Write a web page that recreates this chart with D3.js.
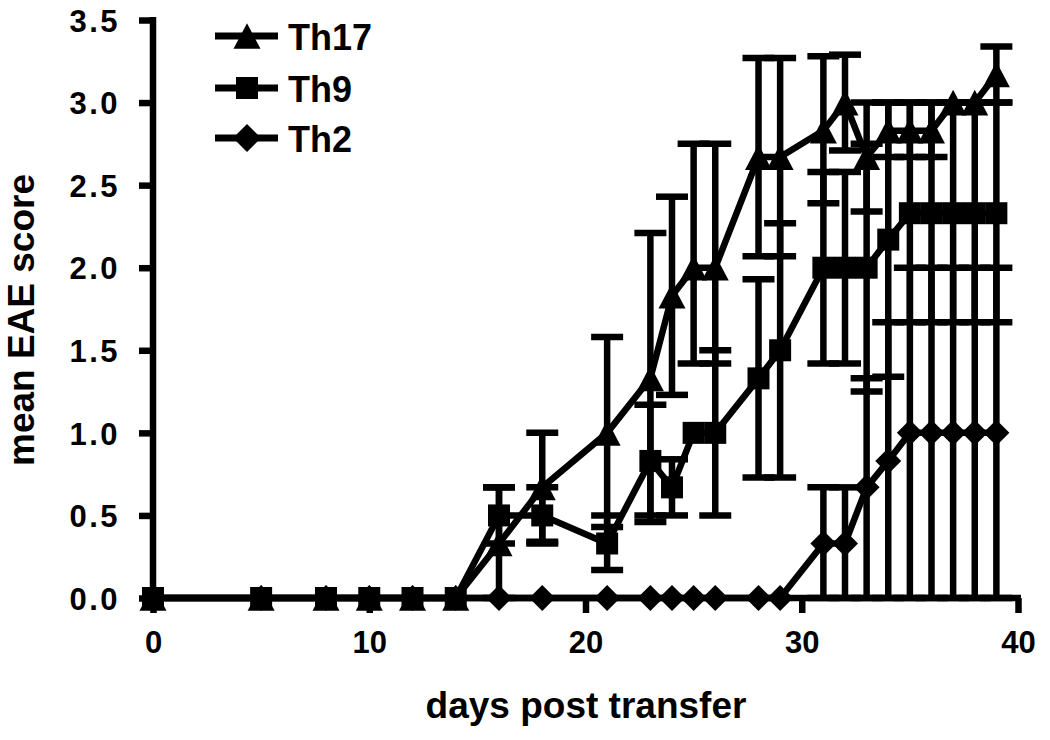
<!DOCTYPE html>
<html>
<head>
<meta charset="utf-8">
<script src="https://cdn.jsdelivr.net/npm/d3@7"></script>
<style>
  html, body { margin: 0; padding: 0; background: #fff; }
  svg { display: block; }
  text { font-family: "Liberation Sans", Arial, Helvetica, sans-serif; font-weight: bold; fill: #000; }
</style>
</head>
<body>
<svg id="chart" width="1050" height="740"></svg>
<script>
// ---------------- data ----------------
const days = [0, 5, 8, 10, 12, 14, 16, 18, 21, 23, 24, 25, 26, 28, 29, 31, 32, 33, 34, 35, 36, 37, 38, 39];

const th17Mean = [0, 0, 0, 0, 0, 0, 0.33, 0.67, 1.0, 1.33, 1.83, 2.0, 2.0, 2.67, 2.67, 2.83, 3.0, 2.67, 2.83, 2.83, 2.83, 3.0, 3.0, 3.17];
const th17Hi   = [0, 0, 0, 0, 0, 0, 0.67, 1.0, 1.58, 2.21, 2.43, 2.75, 2.75, 3.27, 3.27, 3.28, 3.29, 3.0, 3.0, 3.0, 3.0, 3.0, 3.0, 3.34];
const th17Lo   = [0, 0, 0, 0, 0, 0, 0, 0.34, 0.43, 0.46, 1.23, 1.42, 1.42, 2.07, 2.07, 2.39, 2.71, 2.34, 2.67, 2.67, 2.67, 3.0, 3.0, 3.0];

const th9Mean = [0, 0, 0, 0, 0, 0, 0.5, 0.5, 0.33, 0.83, 0.67, 1.0, 1.0, 1.33, 1.5, 2.0, 2.0, 2.0, 2.17, 2.33, 2.33, 2.33, 2.33, 2.33];
const th9Hi   = [0, 0, 0, 0, 0, 0, 0.67, 0.67, 0.5, 1.17, 0.84, 1.0, 1.5, 1.93, 2.27, 2.58, 2.58, 2.75, 3.0, 3.0, 3.0, 3.0, 3.0, 3.0];
const th9Lo   = [0, 0, 0, 0, 0, 0, 0.33, 0.33, 0.17, 0.5, 0.5, 1.0, 0.5, 0.73, 0.73, 1.42, 1.42, 1.25, 1.34, 1.67, 1.67, 1.67, 1.67, 1.67];

const th2Mean = [0, 0, 0, 0, 0, 0, 0, 0, 0, 0, 0, 0, 0, 0, 0, 0.33, 0.33, 0.67, 0.83, 1.0, 1.0, 1.0, 1.0, 1.0];
const th2Hi   = [0, 0, 0, 0, 0, 0, 0, 0, 0, 0, 0, 0, 0, 0, 0, 0.67, 0.67, 1.33, 1.67, 2.0, 2.0, 2.0, 2.0, 2.0];
const th2Lo   = [0, 0, 0, 0, 0, 0, 0, 0, 0, 0, 0, 0, 0, 0, 0, 0, 0, 0, 0, 0, 0, 0, 0, 0];

const seriesNames = ["Th17", "Th9", "Th2"];
const xTicks = [0, 10, 20, 30, 40];
const yTicks = [0, 0.5, 1.0, 1.5, 2.0, 2.5, 3.0, 3.5];
const xTitle = "days post transfer";
const yTitle = "mean EAE score";

// ---------------- layout ----------------
const svg = d3.select("#chart");
const x = d3.scaleLinear().domain([0, 40]).range([153, 1018]);
const y = d3.scaleLinear().domain([0, 3.5]).range([598, 20]);

const LW = 6.5;     // line width
const CAP = 32;     // error cap width

// marker shapes
const triShape = { draw(ctx, size) { const w = Math.sqrt(size) , h = w * 0.95; ctx.moveTo(0, -h / 2); ctx.lineTo(w / 2, h / 2); ctx.lineTo(-w / 2, h / 2); ctx.closePath(); } };
const sqShape = { draw(ctx, size) { const s = Math.sqrt(size) / 2; ctx.rect(-s, -s, 2 * s, 2 * s); } };
const diaShape = { draw(ctx, size) { const r = Math.sqrt(size) / 2; ctx.moveTo(0, -r); ctx.lineTo(r, 0); ctx.lineTo(0, r); ctx.lineTo(-r, 0); ctx.closePath(); } };

const series = [
  { name: "Th2",  mean: th2Mean,  hi: th2Hi,  lo: th2Lo,  shape: diaShape, size: 26 * 26 },
  { name: "Th17", mean: th17Mean, hi: th17Hi, lo: th17Lo, shape: triShape, size: 27 * 27 },
  { name: "Th9",  mean: th9Mean,  hi: th9Hi,  lo: th9Lo,  shape: sqShape,  size: 22 * 22 }
];

// ---------------- axes ----------------
const xAxis = svg.append("g").attr("transform", `translate(0,${y(0)})`)
  .call(d3.axisBottom(x).tickValues(xTicks).tickSize(15).tickSizeOuter(0).tickFormat(d3.format("d")));
xAxis.select(".domain").attr("stroke", "#000").attr("stroke-width", LW)
  .attr("d", `M${x(0) - 3},0H${x(40) + 3}`);
xAxis.selectAll(".tick line").attr("stroke", "#000").attr("stroke-width", LW);
xAxis.selectAll(".tick text").attr("y", 55).attr("dy", null)
  .style("font-size", "31px").style("font-family", '"Liberation Sans", Arial, sans-serif').style("font-weight", "bold");

const yAxis = svg.append("g").attr("transform", `translate(${x(0)},0)`)
  .call(d3.axisLeft(y).tickValues(yTicks).tickSize(14).tickSizeOuter(0).tickFormat(d3.format(".1f")));
yAxis.select(".domain").attr("stroke", "#000").attr("stroke-width", LW)
  .attr("d", `M0,${y(3.5) - 3}V${y(0) + 3}`);
yAxis.selectAll(".tick line").attr("stroke", "#000").attr("stroke-width", LW);
yAxis.selectAll(".tick text").attr("x", -33).attr("dy", "0.36em")
  .style("font-size", "31px").style("letter-spacing", "2.5px")
  .style("font-family", '"Liberation Sans", Arial, sans-serif').style("font-weight", "bold");

// ---------------- series ----------------
const plot = svg.append("g");
series.forEach(s => {
  const pts = days.map((d, i) => ({ d, m: s.mean[i], hi: s.hi[i], lo: s.lo[i] }));
  const g = plot.append("g").attr("class", "series-" + s.name);
  // error bars
  const eb = g.append("g").attr("stroke", "#000").attr("stroke-width", LW).attr("fill", "none");
  pts.forEach(p => {
    if (p.hi > p.m) {
      eb.append("line").attr("x1", x(p.d)).attr("x2", x(p.d)).attr("y1", y(p.m)).attr("y2", y(p.hi));
      eb.append("line").attr("x1", x(p.d) - CAP / 2).attr("x2", x(p.d) + CAP / 2).attr("y1", y(p.hi)).attr("y2", y(p.hi));
    }
    if (p.lo < p.m) {
      eb.append("line").attr("x1", x(p.d)).attr("x2", x(p.d)).attr("y1", y(p.m)).attr("y2", y(p.lo));
      eb.append("line").attr("x1", x(p.d) - CAP / 2).attr("x2", x(p.d) + CAP / 2).attr("y1", y(p.lo)).attr("y2", y(p.lo));
    }
  });
  // connecting line
  g.append("path").datum(pts)
    .attr("fill", "none").attr("stroke", "#000").attr("stroke-width", LW).attr("stroke-linejoin", "miter")
    .attr("d", d3.line().x(p => x(p.d)).y(p => y(p.m)));
  // markers
  g.selectAll("path.mk").data(pts).join("path").attr("class", "mk")
    .attr("transform", p => `translate(${x(p.d)},${y(p.m)})`)
    .attr("d", d3.symbol().type(s.shape).size(s.size))
    .attr("fill", "#000");
});

// ---------------- legend ----------------
const legendRows = [
  { name: seriesNames[0], shape: triShape, size: 27 * 27, ly: 36 },
  { name: seriesNames[1], shape: sqShape, size: 22 * 22, ly: 88 },
  { name: seriesNames[2], shape: diaShape, size: 28 * 28, ly: 138 }
];
const lg = svg.append("g");
legendRows.forEach(r => {
  lg.append("line").attr("x1", 215).attr("x2", 278).attr("y1", r.ly).attr("y2", r.ly)
    .attr("stroke", "#000").attr("stroke-width", 7);
  lg.append("path").attr("transform", `translate(247,${r.ly})`)
    .attr("d", d3.symbol().type(r.shape).size(r.size)).attr("fill", "#000");
  lg.append("text").attr("x", 288).attr("y", r.ly + 14).style("font-size", "36px").text(r.name);
});

// ---------------- titles ----------------
svg.append("text").attr("x", 586).attr("y", 718).attr("text-anchor", "middle")
  .style("font-size", "37px").text(xTitle);
svg.append("text").attr("transform", "translate(34,320) rotate(-90)").attr("text-anchor", "middle")
  .style("font-size", "37px").text(yTitle);
</script>
</body>
</html>
